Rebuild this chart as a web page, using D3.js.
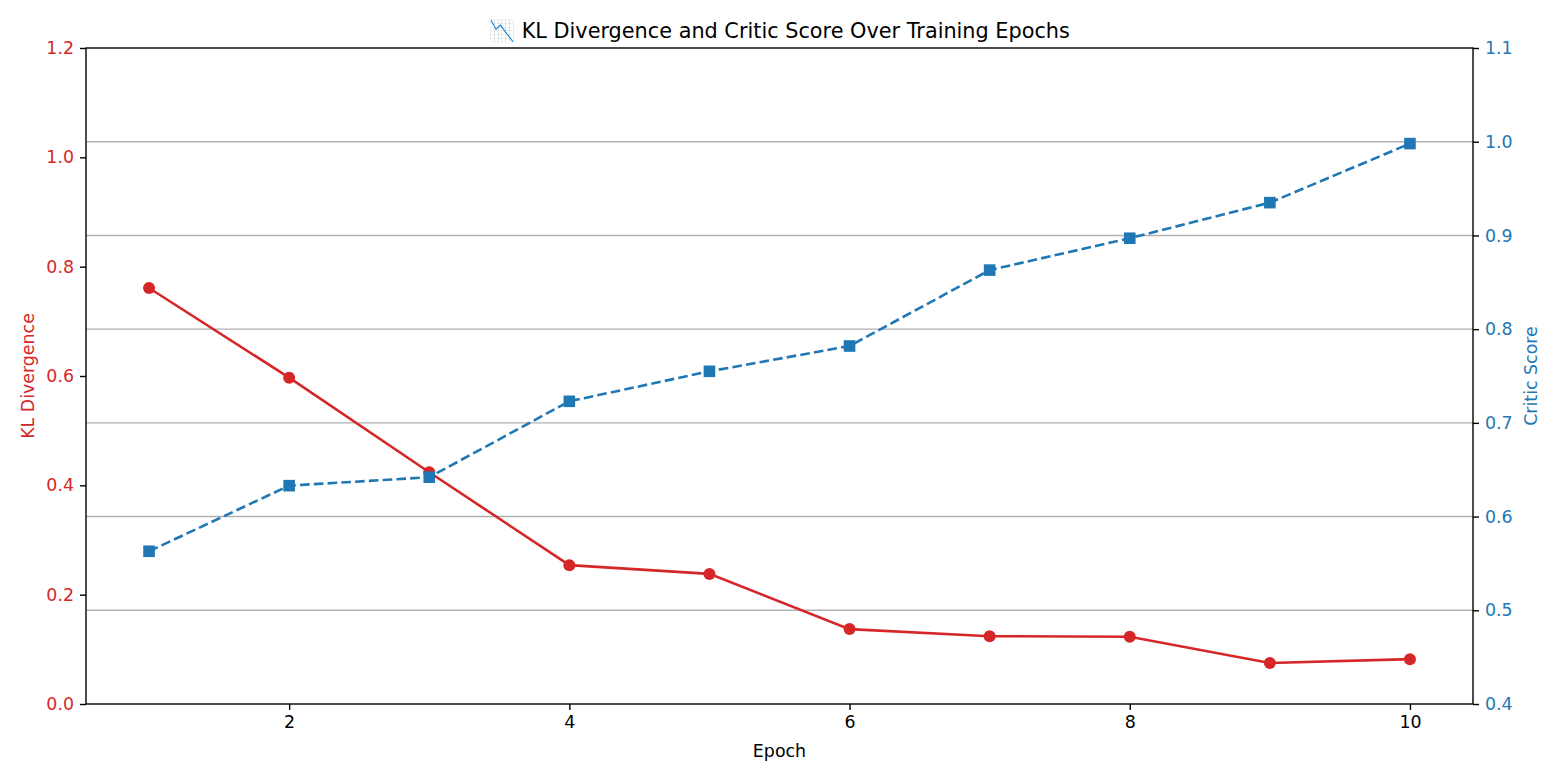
<!DOCTYPE html>
<html>
<head>
<meta charset="utf-8">
<script src="https://cdn.jsdelivr.net/npm/d3@7"></script>
<style>
  body { margin: 0; background: #fff; }
  svg text { font-family: "DejaVu Sans", sans-serif; }
</style>
</head>
<body>
<svg id="chart" width="1560" height="780"></svg>
<script>
var epochs = [1, 2, 3, 4, 5, 6, 7, 8, 9, 10];
var klValues = [0.761, 0.597, 0.424, 0.254, 0.238, 0.137, 0.124, 0.123, 0.075, 0.082];
var criticValues = [0.563, 0.633, 0.642, 0.723, 0.755, 0.782, 0.863, 0.897, 0.935, 0.998];
var xTicks = [2, 4, 6, 8, 10];
var leftTicks = [0, 0.2, 0.4, 0.6, 0.8, 1.0, 1.2];
var rightTicks = [0.4, 0.5, 0.6, 0.7, 0.8, 0.9, 1.0, 1.1];

var red = "#d62728", blue = "#1f77b4";
var margin = {left: 86, top: 48, right: 87, bottom: 76},
    width = 1560, height = 780,
    g_width = width - margin.left - margin.right,
    g_height = height - margin.top - margin.bottom;

var svg = d3.select("#chart");
var g = svg.append("g").attr("transform", "translate(" + margin.left + "," + margin.top + ")");

var x = d3.scaleLinear().domain([0.55, 10.45]).range([0, g_width]);
var yL = d3.scaleLinear().domain([0, 1.2]).range([g_height, 0]);
var yR = d3.scaleLinear().domain([0.4, 1.1]).range([g_height, 0]);

// grid from the right axis
g.append("g").selectAll("line").data(rightTicks.slice(1, -1)).enter().append("line")
  .attr("x1", 0).attr("x2", g_width)
  .attr("y1", function(d){ return yR(d); }).attr("y2", function(d){ return yR(d); })
  .attr("stroke", "#b0b0b0").attr("stroke-width", 1.4);

function styleAxis(sel, color) {
  sel.select(".domain").remove();
  sel.selectAll(".tick line").attr("stroke", "#000").attr("stroke-width", 1.4);
  sel.selectAll(".tick text").attr("fill", color).style("font-size", "17.4px");
}

var xAxis = g.append("g").attr("transform", "translate(0," + g_height + ")")
  .call(d3.axisBottom(x).tickValues(xTicks).tickSize(6).tickPadding(6).tickFormat(d3.format("d")));
styleAxis(xAxis, "#000");

var lAxis = g.append("g")
  .call(d3.axisLeft(yL).tickValues(leftTicks).tickSize(6).tickPadding(6).tickFormat(d3.format(".1f")));
styleAxis(lAxis, red);

var rAxis = g.append("g").attr("transform", "translate(" + g_width + ",0)")
  .call(d3.axisRight(yR).tickValues(rightTicks).tickSize(6).tickPadding(6).tickFormat(d3.format(".1f")));
styleAxis(rAxis, blue);

// frame
g.append("rect").attr("width", g_width).attr("height", g_height)
  .attr("fill", "none").attr("stroke", "#000").attr("stroke-width", 1.4);

// KL line
var klLine = d3.line().x(function(d, i){ return x(epochs[i]); }).y(function(d){ return yL(d); });
g.append("path").attr("d", klLine(klValues))
  .attr("fill", "none").attr("stroke", red).attr("stroke-width", 2.6);
g.append("g").selectAll("circle").data(klValues).enter().append("circle")
  .attr("cx", function(d, i){ return x(epochs[i]); })
  .attr("cy", function(d){ return yL(d); })
  .attr("r", 6).attr("fill", red);

// critic line
var crLine = d3.line().x(function(d, i){ return x(epochs[i]); }).y(function(d){ return yR(d); });
g.append("path").attr("d", crLine(criticValues))
  .attr("fill", "none").attr("stroke", blue).attr("stroke-width", 2.6)
  .attr("stroke-dasharray", "9.6,4.2");
g.append("g").selectAll("rect").data(criticValues).enter().append("rect")
  .attr("x", function(d, i){ return x(epochs[i]) - 5.8; })
  .attr("y", function(d){ return yR(d) - 5.8; })
  .attr("width", 11.6).attr("height", 11.6).attr("fill", blue);

// labels
svg.append("text").attr("x", margin.left + g_width / 2).attr("y", 38)
  .attr("text-anchor", "middle").style("font-size", "20.8px").attr("fill", "#000")
  .text("\uD83D\uDCC9 KL Divergence and Critic Score Over Training Epochs");
svg.append("text").attr("x", margin.left + g_width / 2).attr("y", 757)
  .attr("text-anchor", "middle").style("font-size", "17.4px").attr("fill", "#000")
  .text("Epoch");
svg.append("text").attr("transform", "translate(34," + (margin.top + g_height / 2) + ") rotate(-90)")
  .attr("text-anchor", "middle").style("font-size", "17.4px").attr("fill", red)
  .text("KL Divergence");
svg.append("text").attr("transform", "translate(1537," + (margin.top + g_height / 2) + ") rotate(-90)")
  .attr("text-anchor", "middle").style("font-size", "17.4px").attr("fill", blue)
  .text("Critic Score");
</script>
</body>
</html>
